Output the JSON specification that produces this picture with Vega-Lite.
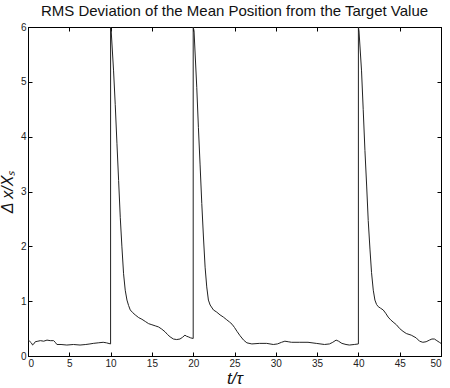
{
  "$schema": "https://vega.github.io/schema/vega-lite/v6.json",
  "width": 413,
  "height": 329,
  "autosize": "none",
  "padding": {"left": 28, "top": 27, "right": 9, "bottom": 32},
  "background": "white",
  "title": {"text": "RMS Deviation of the Mean Position from the Target Value", "font": "Liberation Sans", "fontSize": 15, "fontWeight": "normal", "color": "#111", "offset": 3},
  "data": {"values": [
    {"t": 0, "v": 0.28}, {"t": 0.2, "v": 0.27}, {"t": 0.4, "v": 0.24}, {"t": 0.56, "v": 0.2}, {"t": 0.7, "v": 0.22}, {"t": 0.88, "v": 0.26},
    {"t": 1.2, "v": 0.27}, {"t": 1.5, "v": 0.28}, {"t": 1.9, "v": 0.27}, {"t": 2.3, "v": 0.29}, {"t": 2.7, "v": 0.28}, {"t": 3.1, "v": 0.28},
    {"t": 3.3, "v": 0.25}, {"t": 3.5, "v": 0.21}, {"t": 4.0, "v": 0.21}, {"t": 4.7, "v": 0.2}, {"t": 5.5, "v": 0.21}, {"t": 6.3, "v": 0.2},
    {"t": 7.0, "v": 0.21}, {"t": 7.5, "v": 0.22}, {"t": 7.9, "v": 0.23}, {"t": 8.5, "v": 0.24}, {"t": 9.1, "v": 0.25}, {"t": 9.5, "v": 0.24},
    {"t": 9.999, "v": 0.22},
    {"t": 10.0, "v": 6.0}, {"t": 10.07, "v": 5.93}, {"t": 10.36, "v": 5.2}, {"t": 10.56, "v": 4.59}, {"t": 10.77, "v": 3.87}, {"t": 10.97, "v": 3.2},
    {"t": 11.17, "v": 2.53}, {"t": 11.37, "v": 1.99}, {"t": 11.57, "v": 1.5}, {"t": 11.77, "v": 1.2}, {"t": 11.98, "v": 1.02}, {"t": 12.18, "v": 0.92},
    {"t": 12.38, "v": 0.84}, {"t": 12.68, "v": 0.79}, {"t": 12.98, "v": 0.75}, {"t": 13.4, "v": 0.7}, {"t": 13.79, "v": 0.67}, {"t": 14.2, "v": 0.63},
    {"t": 14.6, "v": 0.59}, {"t": 15.0, "v": 0.57}, {"t": 15.4, "v": 0.55}, {"t": 15.8, "v": 0.53}, {"t": 16.2, "v": 0.49}, {"t": 16.6, "v": 0.44},
    {"t": 16.9, "v": 0.39}, {"t": 17.2, "v": 0.35}, {"t": 17.6, "v": 0.31}, {"t": 18.0, "v": 0.3}, {"t": 18.4, "v": 0.31}, {"t": 18.7, "v": 0.34},
    {"t": 19.0, "v": 0.38}, {"t": 19.2, "v": 0.36}, {"t": 19.4, "v": 0.35}, {"t": 19.7, "v": 0.33}, {"t": 19.999, "v": 0.32},
    {"t": 20.0, "v": 6.0}, {"t": 20.1, "v": 5.93}, {"t": 20.43, "v": 4.9}, {"t": 20.63, "v": 4.17}, {"t": 20.83, "v": 3.5}, {"t": 21.04, "v": 2.78},
    {"t": 21.24, "v": 2.17}, {"t": 21.44, "v": 1.62}, {"t": 21.64, "v": 1.26}, {"t": 21.84, "v": 1.02}, {"t": 22.05, "v": 0.93}, {"t": 22.45, "v": 0.84},
    {"t": 22.85, "v": 0.8}, {"t": 23.25, "v": 0.75}, {"t": 23.65, "v": 0.71}, {"t": 24.06, "v": 0.66}, {"t": 24.4, "v": 0.62}, {"t": 24.7, "v": 0.58},
    {"t": 25.0, "v": 0.52}, {"t": 25.3, "v": 0.45}, {"t": 25.67, "v": 0.37}, {"t": 26.1, "v": 0.29}, {"t": 26.5, "v": 0.24}, {"t": 27.1, "v": 0.22},
    {"t": 28.0, "v": 0.23}, {"t": 28.9, "v": 0.23}, {"t": 29.7, "v": 0.21}, {"t": 30.2, "v": 0.22}, {"t": 30.7, "v": 0.25}, {"t": 31.1, "v": 0.27},
    {"t": 31.5, "v": 0.26}, {"t": 31.9, "v": 0.25}, {"t": 32.9, "v": 0.25}, {"t": 33.9, "v": 0.25}, {"t": 34.9, "v": 0.23}, {"t": 35.9, "v": 0.21},
    {"t": 36.5, "v": 0.22}, {"t": 36.9, "v": 0.25}, {"t": 37.3, "v": 0.29}, {"t": 37.6, "v": 0.27}, {"t": 38.0, "v": 0.23}, {"t": 38.5, "v": 0.21},
    {"t": 38.9, "v": 0.2}, {"t": 39.5, "v": 0.21}, {"t": 39.999, "v": 0.22},
    {"t": 40.0, "v": 6.0}, {"t": 40.07, "v": 5.93}, {"t": 40.38, "v": 5.2}, {"t": 40.58, "v": 4.5}, {"t": 40.79, "v": 3.75}, {"t": 41.0, "v": 3.1},
    {"t": 41.19, "v": 2.47}, {"t": 41.4, "v": 1.95}, {"t": 41.59, "v": 1.52}, {"t": 41.8, "v": 1.2}, {"t": 42.0, "v": 1.02}, {"t": 42.2, "v": 0.94},
    {"t": 42.4, "v": 0.9}, {"t": 42.7, "v": 0.87}, {"t": 43.0, "v": 0.84}, {"t": 43.3, "v": 0.78}, {"t": 43.6, "v": 0.71}, {"t": 43.9, "v": 0.66},
    {"t": 44.2, "v": 0.62}, {"t": 44.6, "v": 0.57}, {"t": 45.0, "v": 0.5}, {"t": 45.4, "v": 0.45}, {"t": 45.8, "v": 0.41}, {"t": 46.4, "v": 0.38},
    {"t": 47.0, "v": 0.33}, {"t": 47.4, "v": 0.27}, {"t": 47.8, "v": 0.25}, {"t": 48.2, "v": 0.26}, {"t": 48.6, "v": 0.29}, {"t": 48.9, "v": 0.31},
    {"t": 49.2, "v": 0.31}, {"t": 49.5, "v": 0.28}, {"t": 49.8, "v": 0.25}, {"t": 50.0, "v": 0.23}
  ]},
  "layer": [
    {
      "mark": {"type": "line", "color": "#222", "strokeWidth": 1, "clip": true},
      "encoding": {
        "x": {"field": "t", "type": "quantitative", "scale": {"domain": [0, 50], "nice": false, "zero": false},
              "axis": {"orient": "bottom", "values": [0, 5, 10, 15, 20, 25, 30, 35, 40, 45, 50], "title": "t/τ", "titleFontStyle": "italic", "titleFontSize": 17, "titlePadding": 2}},
        "y": {"field": "v", "type": "quantitative", "scale": {"domain": [0, 6], "nice": false},
              "axis": {"orient": "left", "values": [0, 1, 2, 3, 4, 5, 6], "title": "Δ x/Xₛ", "titleFontStyle": "italic", "titleFontSize": 16, "titlePadding": 5}}
      }
    },
    {
      "mark": {"type": "line", "opacity": 0},
      "encoding": {
        "x": {"field": "t", "type": "quantitative", "scale": {"domain": [0, 50], "nice": false, "zero": false},
              "axis": {"orient": "top", "values": [0, 5, 10, 15, 20, 25, 30, 35, 40, 45, 50], "labels": false, "title": null}},
        "y": {"field": "v", "type": "quantitative", "scale": {"domain": [0, 6], "nice": false},
              "axis": {"orient": "right", "values": [0, 1, 2, 3, 4, 5, 6], "labels": false, "title": null}}
      }
    }
  ],
  "resolve": {"axis": {"x": "independent", "y": "independent"}},
  "config": {
    "view": {"stroke": "black", "strokeWidth": 1},
    "axis": {
      "grid": false,
      "domainColor": "black",
      "tickColor": "black",
      "tickSize": -4,
      "labelFont": "Liberation Sans",
      "labelFontSize": 10,
      "labelColor": "#222",
      "labelPadding": 6,
      "titleFont": "Liberation Sans",
      "titleFontWeight": "normal",
      "titleColor": "#111"
    }
  }
}
